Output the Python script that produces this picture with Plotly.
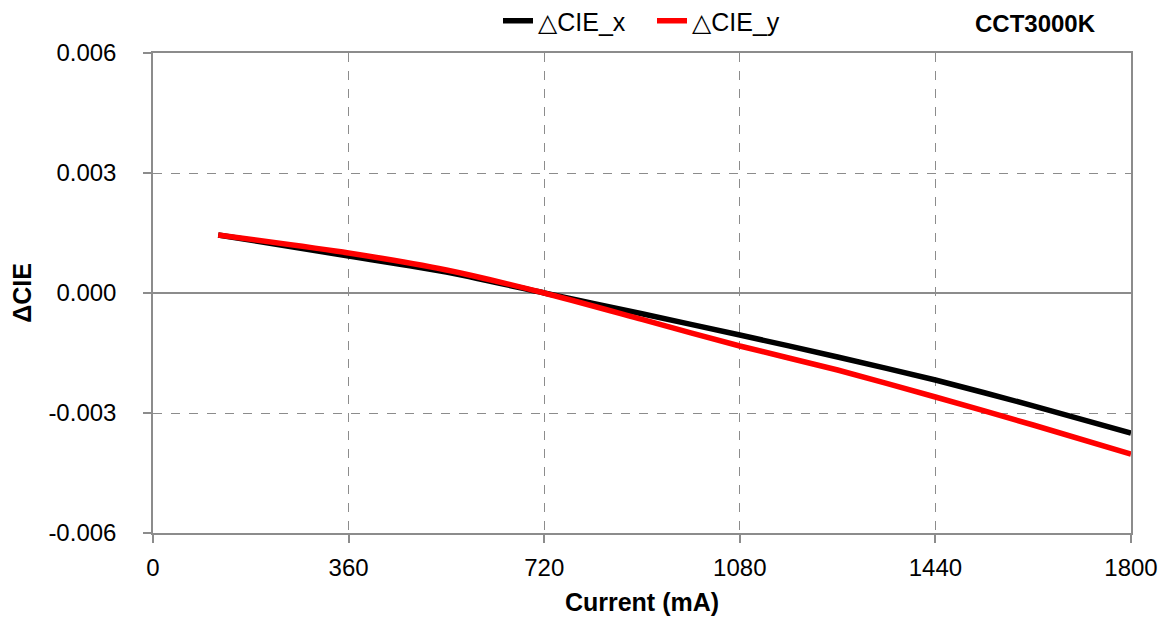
import plotly.graph_objects as go

current = [120, 360, 540, 720, 900, 1080, 1260, 1440, 1620, 1800]
cie_x = [0.00145, 0.000925, 0.000525, 0.0, -0.00052, -0.00105, -0.00160, -0.002175, -0.00282, -0.00350]
cie_y = [0.00145, 0.00100, 0.000575, 0.0, -0.00066, -0.001325, -0.001925, -0.00260, -0.00330, -0.004025]

x_ticks = [0, 360, 720, 1080, 1440, 1800]
y_ticks = [-0.006, -0.003, 0.0, 0.003, 0.006]

FONT = "Liberation Sans, Arial, DejaVu Sans, sans-serif"
GREY = "#8c8c8c"

fig = go.Figure()
fig.add_trace(go.Scatter(x=current, y=cie_x, mode="lines", name="△CIE_x",
                         line=dict(color="#000000", width=5.5, shape="spline", smoothing=0.6)))
fig.add_trace(go.Scatter(x=current, y=cie_y, mode="lines", name="△CIE_y",
                         line=dict(color="#ff0000", width=5.5, shape="spline", smoothing=0.6)))

axis_common = dict(
    showline=True, linecolor=GREY, linewidth=1.5, mirror=True,
    showgrid=True, gridcolor=GREY, griddash="dash", gridwidth=1.2,
    ticks="outside", ticklen=8, tickcolor=GREY, tickwidth=1.5,
    tickfont=dict(size=24, color="#000000", family=FONT),
)

fig.update_xaxes(range=[0, 1800], tickvals=x_ticks, ticktext=[str(v) for v in x_ticks],
                 zeroline=False, ticklabelstandoff=4,
                 title=dict(text="<b>Current (mA)</b>", font=dict(size=25, family=FONT, color="#000"), standoff=14),
                 **axis_common)
fig.update_yaxes(range=[-0.006, 0.006], tickvals=y_ticks,
                 ticktext=["-0.006", "-0.003", "0.000", "0.003", "0.006"],
                 zeroline=True, zerolinecolor=GREY, zerolinewidth=1.5, ticklabelstandoff=22,
                 title=dict(text="<b>ΔCIE</b>", font=dict(size=25, family=FONT, color="#000"), standoff=20),
                 **axis_common)

L, T = 145, 45
fig.add_annotation(text="<b>CCT3000K</b>", xref="paper", yref="paper",
                   x=(1027 - L) / 978, y=1 + T / 480,
                   xanchor="center", yanchor="top", showarrow=False,
                   font=dict(size=24, family=FONT, color="#000"))

fig.update_layout(
    width=1170, height=630,
    margin=dict(l=L, r=47, t=T, b=105, autoexpand=False),
    paper_bgcolor="white", plot_bgcolor="white",
    font=dict(family=FONT, color="#000"),
    legend=dict(orientation="h", x=(490 - L) / 978, y=1 + (T - 13) / 480,
                xanchor="left", yanchor="middle",
                font=dict(size=25, family=FONT, color="#000"),
                bgcolor="rgba(0,0,0,0)", entrywidth=109, entrywidthmode="pixels"),
)

fig.write_html("out.html")
